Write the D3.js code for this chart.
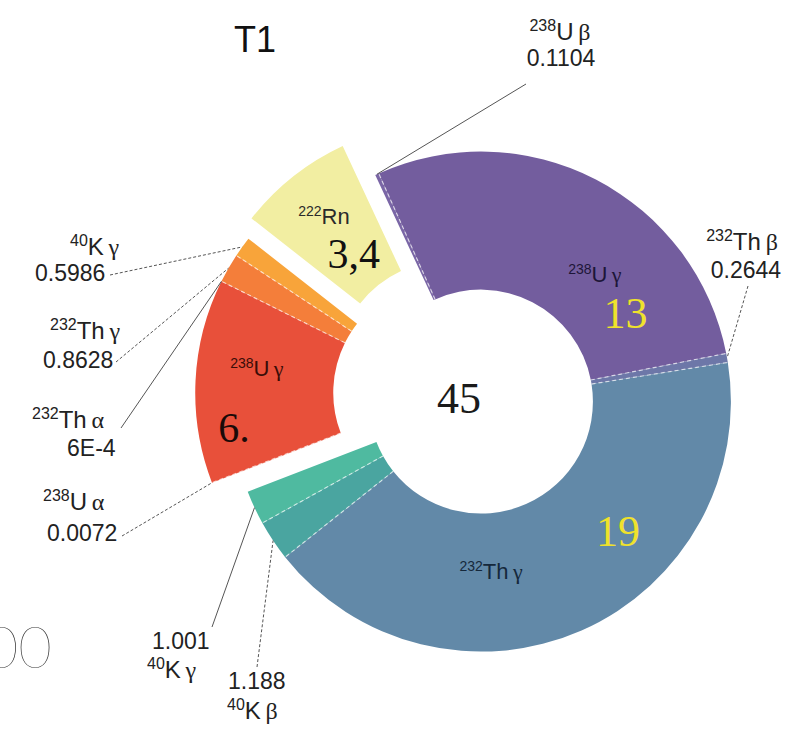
<!DOCTYPE html>
<html>
<head>
<meta charset="utf-8">
<script src="https://cdn.jsdelivr.net/npm/d3@7/dist/d3.min.js"></script>
<style>
  body { margin: 0; background: #fff; }
  svg { display: block; }
</style>
</head>
<body>
<svg id="chart" width="794" height="729"></svg>
<script>
// ---- data ----
const chartTitle = "T1";
const totalLabel = "45";
const massNumbers = ["238", "238", "232", "232", "40", "40", "238", "238", "232", "232", "40", "222"];
const elements    = ["U", "U", "Th", "Th", "K", "K", "U", "U", "Th", "Th", "K", "Rn"];
const radiations  = ["β", "γ", "β", "γ", "β", "γ", "α", "γ", "α", "γ", "γ", ""];
const doses       = [0.1104, 13, 0.2644, 19, 1.188, 1.001, 0.0072, 6, 0.0006, 0.8628, 0.5986, 3.4];
const doseLabels  = ["0.1104", "13", "0.2644", "19", "1.188", "1.001", "0.0072", "6.", "6E-4", "0.8628", "0.5986", "3,4"];
const groupIndex  = [0, 0, 0, 0, 0, 0, 1, 1, 1, 1, 1, 2];
const cornerText  = "00";

// ---- styles ----
const sliceColors = ["#7a66a6", "#735d9e", "#6d77a8", "#6289a8", "#4aa5a0", "#4fbaa0",
                     "#e8503a", "#e8503a", "#ee6a3a", "#f47e3a", "#f8a43a", "#f2eea2"];
const sans = "'Liberation Sans', Arial, Helvetica, sans-serif";
const serif = "'Liberation Serif', 'Times New Roman', serif";

// ---- layout ----
const center = [467, 396];
const rInner = 112, rOuter = 250;
const explode = [15, 22, 30];
const deg = Math.PI / 180;
const startAngle = -25 * deg;

const svg = d3.select("#chart");

const pie = d3.pie().sort(null).value(d => d)
  .startAngle(startAngle).endAngle(startAngle + 2 * Math.PI);
const arcs = pie(doses);
const arcGen = d3.arc().innerRadius(rInner).outerRadius(rOuter);

const polar = (r, a) => [r * Math.sin(a), -r * Math.cos(a)];

// group extents and explode offsets along each group's bisector
const groupOffsets = d3.range(3).map(g => {
  const segs = arcs.filter((a, i) => groupIndex[i] === g);
  const a0 = d3.min(segs, s => s.startAngle), a1 = d3.max(segs, s => s.endAngle);
  const [dx, dy] = polar(explode[g], (a0 + a1) / 2);
  return [center[0] + dx, center[1] + dy];
});

const root = svg.append("g");

// slices
arcs.forEach((a, i) => {
  const o = groupOffsets[groupIndex[i]];
  root.append("path")
    .attr("transform", `translate(${o[0]},${o[1]})`)
    .attr("d", arcGen(a))
    .attr("fill", sliceColors[i]);
});

// light dashed separators between neighbouring slices of one group
arcs.forEach((a, i) => {
  if (i === 0 || groupIndex[i] !== groupIndex[i - 1]) return;
  if (a.endAngle - a.startAngle < 0.002 && i + 1 < arcs.length && groupIndex[i + 1] === groupIndex[i]) return;
  const o = groupOffsets[groupIndex[i]];
  const p0 = polar(rInner, a.startAngle), p1 = polar(rOuter, a.startAngle);
  root.append("line")
    .attr("x1", o[0] + p0[0]).attr("y1", o[1] + p0[1])
    .attr("x2", o[0] + p1[0]).attr("y2", o[1] + p1[1])
    .attr("stroke", "#ffffff").attr("stroke-opacity", 0.65)
    .attr("stroke-width", 1.2).attr("stroke-dasharray", "4 3");
});

// isotope name: superscript mass number, element, radiation letter
function writeName(text, i, s) {
  text.append("tspan").attr("font-size", s.sup).attr("dy", -s.shift).text(massNumbers[i]);
  text.append("tspan").attr("font-size", s.main).attr("dy", s.shift).text(elements[i]);
  if (radiations[i]) {
    text.append("tspan").attr("font-family", serif).attr("font-size", s.greek)
      .text("\u2009" + radiations[i]);
  }
}

// labels inside the large slices (position as fraction of the slice angle, radius)
const insideLabels = [
  { seg: 1,  name: [0.64, 171], value: [0.80, 170], nameColor: "#1d1638", valueColor: "#efe22c", valueSize: 44 },
  { seg: 3,  name: [0.635, 170], value: [0.347, 188], nameColor: "#15283b", valueColor: "#efe22c", valueSize: 44 },
  { seg: 7,  name: [0.60, 190], value: [0.25, 214], nameColor: "#3a0d08", valueColor: "#1a0a08", valueSize: 42 },
  { seg: 11, name: [0.5, 200], value: [0.5, 152], nameColor: "#2a2a2a", valueColor: "#111111", valueSize: 42 }
];
const insideNameStyle = { sup: 14, main: 22, greek: 22, shift: 8 };

insideLabels.forEach(L => {
  const a = arcs[L.seg];
  const o = groupOffsets[groupIndex[L.seg]];
  const at = f => a.startAngle + f * (a.endAngle - a.startAngle);
  const pn = polar(L.name[1], at(L.name[0]));
  const t = root.append("text")
    .attr("x", o[0] + pn[0]).attr("y", o[1] + pn[1] + 8)
    .attr("text-anchor", "middle").attr("font-family", sans)
    .attr("fill", L.nameColor);
  writeName(t, L.seg, insideNameStyle);
  const pv = polar(L.value[1], at(L.value[0]));
  root.append("text")
    .attr("x", o[0] + pv[0]).attr("y", o[1] + pv[1])
    .attr("dy", "0.35em").attr("text-anchor", "middle")
    .attr("font-family", serif).attr("font-size", L.valueSize)
    .attr("fill", L.valueColor)
    .text(doseLabels[L.seg]);
});

// callouts for the small slices
const callouts = [
  { seg: 0,  name: [560, 40, "middle"], value: [561, 66, "middle"], from: [526, 84],  dash: false },
  { seg: 2,  name: [742, 250, "middle"], value: [746, 278, "middle"], from: [748, 286], dash: true },
  { seg: 10, name: [70, 255, "start"],  value: [35, 281, "start"],  from: [110, 275], dash: true },
  { seg: 9,  name: [50, 339, "start"],  value: [43, 368, "start"],  from: [116, 362], dash: true },
  { seg: 8,  name: [32, 428, "start"],  value: [67, 456, "start"],  from: [121, 428], dash: false },
  { seg: 6,  name: [43, 510, "start"],  value: [47, 541, "start"],  from: [122, 536], dash: true },
  { seg: 5,  name: [147, 678, "start"], value: [152, 649, "start"], from: [212, 627], dash: false },
  { seg: 4,  name: [227, 719, "start"], value: [228, 689, "start"], from: [257, 667], dash: true }
];
const calloutNameStyle = { sup: 16, main: 24, greek: 24, shift: 9 };

callouts.forEach(c => {
  const a = arcs[c.seg];
  const o = groupOffsets[groupIndex[c.seg]];
  const p = polar(rOuter, (a.startAngle + a.endAngle) / 2);
  root.append("line")
    .attr("x1", c.from[0]).attr("y1", c.from[1])
    .attr("x2", o[0] + p[0]).attr("y2", o[1] + p[1])
    .attr("stroke", "#555").attr("stroke-width", 1)
    .attr("stroke-dasharray", c.dash ? "3 2" : null);
  const t = root.append("text")
    .attr("x", c.name[0]).attr("y", c.name[1])
    .attr("text-anchor", c.name[2]).attr("font-family", sans).attr("fill", "#222");
  writeName(t, c.seg, calloutNameStyle);
  root.append("text")
    .attr("x", c.value[0]).attr("y", c.value[1])
    .attr("text-anchor", c.value[2]).attr("font-family", sans)
    .attr("font-size", 23).attr("fill", "#222")
    .text(doseLabels[c.seg]);
});

// total in the hole
root.append("text")
  .attr("x", 459).attr("y", 398).attr("dy", "0.35em")
  .attr("text-anchor", "middle").attr("font-family", serif)
  .attr("font-size", 44).attr("fill", "#1a1a1a")
  .text(totalLabel);

// title
svg.append("text")
  .attr("x", 234).attr("y", 52)
  .attr("font-family", sans).attr("font-size", 36).attr("fill", "#111")
  .text(chartTitle);

// partial axis number at the lower left edge
svg.append("text")
  .attr("x", 52).attr("y", 668).attr("text-anchor", "end")
  .attr("font-family", "Lato, 'Noto Sans', sans-serif").attr("font-weight", 200)
  .attr("font-size", 58).attr("fill", "#333")
  .text(cornerText);
</script>
</body>
</html>
